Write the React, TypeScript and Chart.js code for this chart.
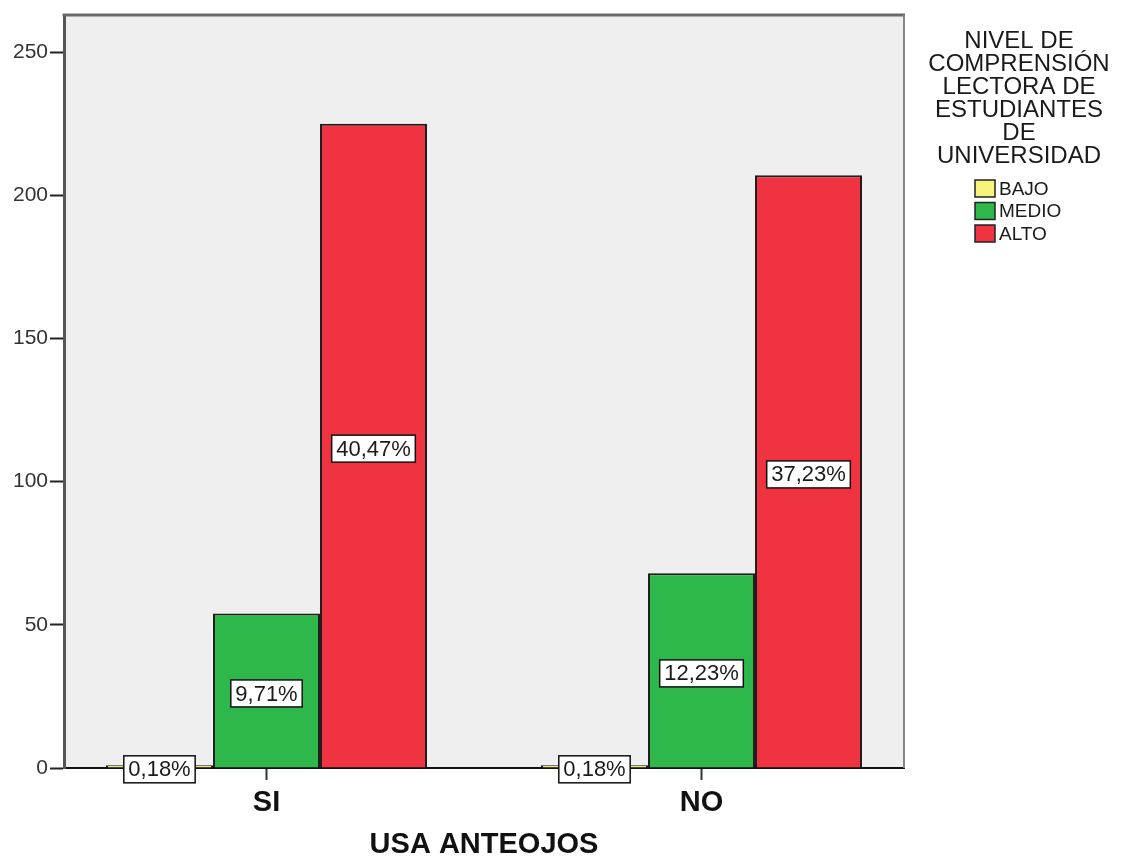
import React, { useEffect, useRef } from "react";
import { Chart, registerables } from "chart.js";

Chart.register(...registerables);

// ---- Data ----
const categories = ["SI", "NO"];
const seriesNames = ["BAJO", "MEDIO", "ALTO"];
const bajoValues = [1, 1];
const medioValues = [54, 68];
const altoValues = [225, 207];
const bajoLabels = ["0,18%", "0,18%"];
const medioLabels = ["9,71%", "12,23%"];
const altoLabels = ["40,47%", "37,23%"];
const legendTitleLines = ["NIVEL DE", "COMPRENSIÓN", "LECTORA DE", "ESTUDIANTES", "DE", "UNIVERSIDAD"];
const xAxisTitle = "USA ANTEOJOS";
const yMax = 263;
const yStep = 50;

const seriesColors = ["#f6f37a", "#2eb84b", "#ef3340"];
const FONT = '"Liberation Sans", Arial, Helvetica, sans-serif';

const labelSets = [bajoLabels, medioLabels, altoLabels];
const valueSets = [bajoValues, medioValues, altoValues];

const bgPlugin = {
  id: "bgPlugin",
  beforeDraw(chart: any) {
    const { ctx, chartArea } = chart;
    ctx.save();
    ctx.fillStyle = "#ffffff";
    ctx.fillRect(0, 0, chart.width, chart.height);
    ctx.fillStyle = "#efefef";
    ctx.fillRect(chartArea.left, chartArea.top, chartArea.right - chartArea.left, chartArea.bottom - chartArea.top);
    ctx.restore();
  },
  afterDraw(chart: any) {
    const { ctx, chartArea } = chart;
    ctx.save();
    // top frame
    ctx.strokeStyle = "#6a6a6a";
    ctx.lineWidth = 3;
    ctx.beginPath();
    ctx.moveTo(chartArea.left - 1.5, chartArea.top);
    ctx.lineTo(chartArea.right + 1, chartArea.top);
    ctx.stroke();
    // right frame
    ctx.strokeStyle = "#858585";
    ctx.lineWidth = 2;
    ctx.beginPath();
    ctx.moveTo(chartArea.right, chartArea.top);
    ctx.lineTo(chartArea.right, chartArea.bottom);
    ctx.stroke();

    // Legend
    ctx.fillStyle = "#1a1a1a";
    ctx.textAlign = "center";
    ctx.textBaseline = "middle";
    ctx.font = `24px ${FONT}`;
    const lx = 1019;
    legendTitleLines.forEach((line, i) => {
      ctx.fillText(line, lx, 41 + i * 23);
    });
    ctx.textAlign = "left";
    ctx.font = `19px ${FONT}`;
    seriesNames.forEach((name, i) => {
      const by = 180 + i * 22.5;
      ctx.fillStyle = seriesColors[i];
      ctx.fillRect(975, by, 20, 17);
      ctx.strokeStyle = "#222";
      ctx.lineWidth = 1.5;
      ctx.strokeRect(975, by, 20, 17);
      ctx.fillStyle = "#1a1a1a";
      ctx.fillText(name, 999, by + 9.5);
    });
    ctx.restore();
  },
};

const labelPlugin = {
  id: "pctLabels",
  afterDatasetsDraw(chart: any) {
    const ctx = chart.ctx;
    ctx.save();
    ctx.font = `22px ${FONT}`;
    chart.data.datasets.forEach((_ds: any, di: number) => {
      const meta = chart.getDatasetMeta(di);
      meta.data.forEach((bar: any, i: number) => {
        const text = labelSets[di][i];
        const { x, y, base } = bar.getProps(["x", "y", "base"], true);
        const cy = (y + base) / 2 + 3;
        const w = ctx.measureText(text).width + 9;
        const h = 27;
        ctx.fillStyle = "#ffffff";
        ctx.fillRect(x - w / 2, cy - h / 2, w, h);
        ctx.strokeStyle = "#111";
        ctx.lineWidth = 1.5;
        ctx.strokeRect(x - w / 2, cy - h / 2, w, h);
        ctx.fillStyle = "#1a1a1a";
        ctx.textAlign = "center";
        ctx.textBaseline = "middle";
        ctx.fillText(text, x, cy + 1);
      });
    });
    ctx.restore();
  },
};

export default function App() {
  const canvasRef = useRef<HTMLCanvasElement | null>(null);

  useEffect(() => {
    if (!canvasRef.current) return;
    const chart = new Chart(canvasRef.current, {
      type: "bar",
      data: {
        datasets: seriesNames.map((name, si) => ({
          label: name,
          data: categories.map((_c, i) => ({ x: i, y: valueSets[si][i] })),
          backgroundColor: seriesColors[si],
          borderColor: "#1e1e1e",
          borderWidth: 2,
          categoryPercentage: 0.738,
          barPercentage: 1,
        })),
      },
      options: {
        animation: false,
        responsive: false,
        devicePixelRatio: 1,
        layout: { padding: { top: 15, right: 219, left: 0, bottom: 0 } },
        plugins: {
          legend: { display: false },
          tooltip: { enabled: false },
        },
        scales: {
          x: {
            type: "linear",
            offset: false,
            min: -0.4655,
            max: 1.4655,
            afterBuildTicks: (scale: any) => {
              scale.ticks = categories.map((_c, i) => ({ value: i }));
            },
            afterFit: (scale: any) => {
              scale.height = 91;
            },
            grid: {
              display: true,
              offset: false,
              drawOnChartArea: false,
              drawTicks: true,
              tickLength: 12,
              tickColor: "#333",
              tickWidth: 2,
            },
            border: { display: true, color: "#111", width: 2 },
            ticks: {
              autoSkip: false,
              maxRotation: 0,
              padding: 8,
              color: "#111",
              font: { family: FONT, size: 29, weight: "bold", lineHeight: 1.0 },
              callback: (v: any) => categories[v as number] ?? "",
            },
            title: {
              display: true,
              text: xAxisTitle,
              color: "#111",
              padding: { top: 0, bottom: 0 },
              font: { family: FONT, size: 29, weight: "bold", lineHeight: 1.0 },
            },
          },
          y: {
            min: 0,
            max: yMax,
            afterBuildTicks: (scale: any) => {
              scale.ticks = scale.ticks.filter((t: any) => t.value % yStep === 0);
            },
            afterFit: (scale: any) => {
              scale.width = 64;
            },
            grid: {
              display: true,
              drawOnChartArea: false,
              drawTicks: true,
              tickLength: 14,
              tickColor: "#222",
              tickWidth: 2,
            },
            border: { display: true, color: "#555", width: 3 },
            ticks: {
              stepSize: yStep,
              padding: 2,
              color: "#333",
              font: { family: FONT, size: 21 },
            },
          },
        },
      },
      plugins: [bgPlugin, labelPlugin],
    } as any);
    return () => chart.destroy();
  }, []);

  return (
    <div style={{ position: "fixed", left: 0, top: 0, width: 1123, height: 859, background: "#fff" }}>
      <canvas ref={canvasRef} width={1123} height={859} style={{ display: "block" }} />
    </div>
  );
}
